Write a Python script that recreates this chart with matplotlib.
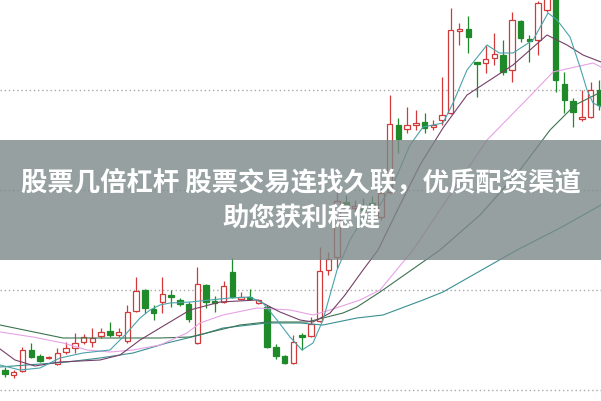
import matplotlib
matplotlib.use("Agg")
import matplotlib.pyplot as plt
from matplotlib.patches import Rectangle
import numpy as np

# daily candles (price units)
opens = [9.20, 9.15, 9.19, 9.40, 9.34, 9.32, 9.26, 9.38, 9.42, 9.48,
         9.48, 9.54, 9.59, 9.55, 9.49, 9.79, 10.00, 9.81, 9.88, 9.95,
         9.90, 9.86, 9.47, 10.05, 9.89, 9.88, 10.18, 9.91, 9.93, 9.87,
         9.83, 9.43, 9.34, 9.27, 9.55, 9.54, 9.69, 10.20, 10.33, 10.88,
         10.82, 10.85, 10.87, 10.73, 10.98, 11.65, 11.61, 11.65, 11.68, 11.63,
         11.70, 11.77, 12.59, 12.61, 12.28, 12.27, 12.32, 12.35, 12.20, 12.69,
         12.51, 12.50, 12.80, 12.95, 12.06, 11.89, 11.71, 11.73, 12.00]
highs = [9.23, 9.20, 9.43, 9.47, 9.36, 9.34, 9.42, 9.48, 9.57, 9.56,
         9.62, 9.62, 9.68, 9.62, 9.85, 10.13, 10.01, 9.85, 10.13, 10.00,
         9.92, 9.88, 10.23, 10.06, 9.94, 10.09, 10.32, 9.98, 10.01, 9.91,
         9.85, 9.46, 9.35, 9.55, 9.57, 9.73, 10.43, 10.38, 11.00, 10.95,
         10.90, 10.92, 10.94, 11.02, 11.95, 11.72, 11.83, 11.80, 11.77, 11.70,
         12.13, 12.82, 12.67, 12.74, 12.28, 12.45, 12.57, 12.50, 12.78, 12.70,
         12.55, 12.89, 13.00, 13.00, 12.18, 11.92, 12.00, 12.08, 12.10]
lows = [9.13, 9.12, 9.18, 9.32, 9.28, 9.31, 9.25, 9.36, 9.37, 9.46,
        9.43, 9.52, 9.53, 9.53, 9.47, 9.78, 9.77, 9.70, 9.77, 9.83,
        9.84, 9.68, 9.46, 9.82, 9.78, 9.87, 9.92, 9.90, 9.90, 9.86,
        9.42, 9.31, 9.26, 9.26, 9.40, 9.53, 9.68, 10.15, 10.22, 10.78,
        10.78, 10.76, 10.80, 10.70, 10.96, 11.37, 11.57, 11.60, 11.57, 11.60,
        11.65, 11.76, 12.45, 12.37, 11.93, 12.17, 12.25, 12.15, 12.08, 12.48,
        12.28, 12.35, 12.78, 11.98, 11.77, 11.63, 11.69, 11.72, 11.80]
closes = [9.16, 9.18, 9.40, 9.33, 9.29, 9.33, 9.37, 9.42, 9.47, 9.53,
          9.52, 9.58, 9.55, 9.58, 9.78, 9.99, 9.82, 9.77, 9.96, 9.93,
          9.86, 9.71, 10.06, 9.88, 9.87, 10.04, 9.93, 9.93, 9.91, 9.90,
          9.43, 9.34, 9.27, 9.48, 9.53, 9.66, 10.19, 10.31, 10.89, 10.84,
          10.84, 10.80, 10.83, 10.97, 11.66, 11.51, 11.65, 11.67, 11.62, 11.65,
          11.75, 12.60, 12.61, 12.53, 12.26, 12.31, 12.36, 12.18, 12.70, 12.52,
          12.49, 12.87, 12.93, 12.10, 11.90, 11.78, 11.73, 12.00, 11.85]

# moving averages (x in bar index)
ma5_x = [-0.57, 1.72, 4.00, 6.29, 8.92, 12.01, 13.73, 15.45, 16.59, 17.73,
         18.88, 21.17, 23.46, 25.74, 28.03, 29.52, 31.12, 32.61, 33.98, 35.24,
         36.38, 37.99, 39.47, 41.19, 42.91, 44.62, 46.34, 47.83, 50.11, 51.26,
         52.86, 55.15, 56.56, 58.12, 60.41, 62.13, 63.16, 64.65, 65.79, 66.59,
         67.28, 68.19]
ma5_y = [9.25, 9.20, 9.22, 9.32, 9.37, 9.40, 9.55, 9.72, 9.80, 9.85,
         9.87, 9.88, 9.90, 9.92, 9.93, 9.87, 9.70, 9.53, 9.40, 9.47,
         9.70, 10.20, 10.50, 10.75, 10.85, 11.10, 11.45, 11.63, 11.67, 11.87,
         12.20, 12.45, 12.37, 12.37, 12.50, 12.77, 12.70, 12.53, 12.23, 12.00,
         11.87, 11.83]
ma10_x = [-0.57, 1.14, 3.43, 6.29, 10.87, 13.16, 15.45, 17.73, 21.17, 24.60,
          28.83, 31.46, 33.75, 35.24, 37.19, 38.90, 40.96, 42.68, 45.19, 47.48,
          50.11, 52.86, 55.49, 58.12, 62.01, 64.30, 66.13, 68.19]
ma10_y = [9.41, 9.30, 9.24, 9.28, 9.30, 9.35, 9.50, 9.62, 9.80, 9.88,
          9.90, 9.78, 9.70, 9.68, 9.77, 9.95, 10.20, 10.40, 10.85, 11.25,
          11.62, 11.95, 12.10, 12.25, 12.55, 12.45, 12.35, 12.28]
ma20_x = [-0.57, 3.20, 6.64, 9.38, 12.01, 14.65, 17.73, 20.82, 22.31, 24.94,
          28.83, 32.61, 35.24, 37.19, 40.62, 42.91, 46.68, 50.92, 55.15, 60.41,
          62.70, 67.28, 68.19]
ma20_y = [9.58, 9.53, 9.47, 9.40, 9.38, 9.40, 9.45, 9.57, 9.67, 9.75,
          9.82, 9.80, 9.75, 9.80, 9.90, 10.00, 10.40, 10.95, 11.50, 11.97,
          12.18, 12.27, 12.23]
ma30_x = [-0.57, 6.64, 17.73, 21.17, 26.89, 29.98, 34.55, 36.38, 38.67, 40.27,
          42.91, 49.77, 54.35, 58.92, 62.36, 65.22, 68.19]
ma30_y = [9.65, 9.52, 9.52, 9.53, 9.65, 9.68, 9.68, 9.72, 9.77, 9.83,
          9.98, 10.40, 10.75, 11.20, 11.60, 11.85, 11.98]
ma60_x = [-0.57, 7.09, 10.87, 14.65, 18.54, 22.31, 24.94, 29.98, 33.75, 36.38,
          40.27, 43.25, 47.83, 50.11, 58.58, 63.50, 68.19]
ma60_y = [9.23, 9.28, 9.32, 9.37, 9.47, 9.55, 9.62, 9.67, 9.67, 9.65,
          9.72, 9.75, 9.90, 9.98, 10.40, 10.62, 10.85]

grid_levels = [9.0, 10.0, 11.0, 12.0]
title_1 = "股票几倍杠杆 股票交易连找久联，优质配资渠道"
title_2 = "助您获利稳健"

plt.rcParams['font.family'] = ['Noto Sans CJK SC', 'DejaVu Sans']

fig = plt.figure(figsize=(6.01, 4.01), dpi=100)
ax = fig.add_axes([0, 0, 1, 1])
ax.set_xlim(-0.572, 68.19)
ax.set_ylim(8.89, 12.9)
ax.axis('off')

for g in grid_levels:
    ax.axhline(g, color='#a8a8a8', linestyle=(0, (1, 2)), linewidth=1.0, zorder=1)

up_col = '#d23a3a'
dn_col = '#1f8a2a'
idx = np.arange(len(opens))
for i in idx:
    o, h, l, c = opens[i], highs[i], lows[i], closes[i]
    col = up_col if c >= o else dn_col
    ax.vlines(i, l, h, color=col, linewidth=0.9, zorder=2)
    body = max(abs(c - o), 0.012)
    if c >= o:
        ax.bar(i, body, bottom=min(o, c), width=0.62, facecolor='white',
               edgecolor=col, linewidth=0.9, zorder=3)
    else:
        ax.bar(i, body, bottom=min(o, c), width=0.62, facecolor=col,
               edgecolor=col, linewidth=0.9, zorder=3)

ax.plot(ma60_x, ma60_y, color='#3a8f92', linewidth=0.8, zorder=4)
ax.plot(ma30_x, ma30_y, color='#3c7350', linewidth=0.8, zorder=4)
ax.plot(ma20_x, ma20_y, color='#e6a2e6', linewidth=0.8, zorder=4)
ax.plot(ma10_x, ma10_y, color='#744068', linewidth=0.8, zorder=4)
ax.plot(ma5_x, ma5_y, color='#4aa3ab', linewidth=0.8, zorder=4)

# grey banner with caption
ax.add_patch(Rectangle((0, 1 - 260 / 401), 1, 120 / 401, transform=ax.transAxes,
                       facecolor='#7c8888', alpha=0.8, edgecolor='none', zorder=10))
fig.text(0.5, 1 - 183 / 401, title_1, ha='center', va='center', color='white',
         fontsize=19, fontweight='bold', zorder=11)
fig.text(0.502, 1 - 218 / 401, title_2, ha='center', va='center', color='white',
         fontsize=19, fontweight='bold', zorder=11)

fig.savefig("out.png", dpi=100)
